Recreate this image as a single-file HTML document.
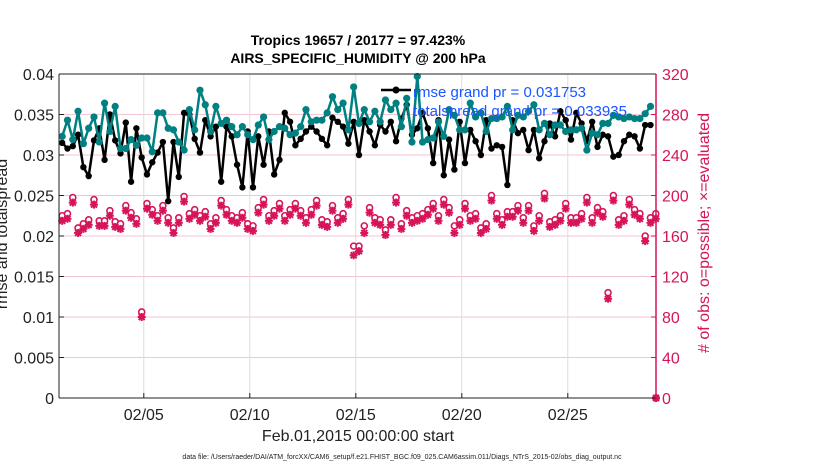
<!DOCTYPE html>
<html><head><meta charset="utf-8"><style>
html,body{margin:0;padding:0;background:#fff;}
svg{display:block;font-family:"Liberation Sans",Arial,sans-serif;}
</style></head><body>
<svg id="chart" width="830" height="470" viewBox="0 0 830 470" xmlns="http://www.w3.org/2000/svg">
<text x="358" y="45" font-size="14" font-weight="bold" text-anchor="middle">Tropics 19657 / 20177 = 97.423%</text>
<text x="358" y="63" font-size="14" font-weight="bold" text-anchor="middle">AIRS_SPECIFIC_HUMIDITY @ 200 hPa</text>
<g id="grid"></g>
<g id="marks"></g>
<g id="axes"></g>
<text transform="translate(7,234) rotate(-90)" font-size="16" text-anchor="middle" fill="#222">rmse and totalspread</text>
<text transform="translate(709,233) rotate(-90)" font-size="15.5" fill="#d6145a" text-anchor="middle" textLength="240" lengthAdjust="spacingAndGlyphs"># of obs: o=possible; ×=evaluated</text>
<text x="358" y="441" font-size="16" text-anchor="middle" fill="#222">Feb.01,2015 00:00:00 start</text>
<text x="402" y="459" font-size="7" text-anchor="middle" fill="#222">data file: /Users/raeder/DAI/ATM_forcXX/CAM6_setup/f.e21.FHIST_BGC.f09_025.CAM6assim.011/Diags_NTrS_2015-02/obs_diag_output.nc</text>
<g>
<line x1="381" y1="90" x2="411" y2="90" stroke="#000" stroke-width="2.5"/>
<circle cx="396" cy="90" r="3.5" fill="#000"/>
<text x="413" y="97" font-size="15" fill="#1a56ff">rmse grand pr = 0.031753</text>
<text x="413" y="116" font-size="15" fill="#1a56ff">totalspread grand pr = 0.033935</text>
</g>
</svg>
<script>
const xTickLabels = ["02/05","02/10","02/15","02/20","02/25"];
const xTickDays = [4,9,14,19,24];
const yLeftTicks = [0,0.005,0.01,0.015,0.02,0.025,0.03,0.035,0.04];
const yLeftLabels = ["0","0.005","0.01","0.015","0.02","0.025","0.03","0.035","0.04"];
const yRightTicks = [0,40,80,120,160,200,240,280,320];
const rmse = [0.0315,0.0308,0.0311,0.0325,0.0285,0.0274,0.0318,0.0333,0.0294,0.0350,0.0318,0.0302,0.0340,0.0267,0.0333,0.0297,0.0276,0.0291,0.0303,0.0316,0.0243,0.0316,0.0273,0.0352,0.0350,0.0320,0.0303,0.0343,0.0323,0.0335,0.0267,0.0335,0.0323,0.0288,0.0260,0.0329,0.0260,0.0323,0.0288,0.0329,0.0276,0.0294,0.0352,0.0341,0.0312,0.0320,0.0329,0.0335,0.0329,0.0320,0.0312,0.0346,0.0341,0.0335,0.0314,0.0341,0.0300,0.0343,0.0329,0.0312,0.0337,0.0329,0.0341,0.0317,0.0345,0.0362,0.0325,0.0333,0.0352,0.0333,0.0290,0.0343,0.0275,0.0319,0.0282,0.0341,0.0290,0.0331,0.0317,0.0300,0.0343,0.0308,0.0312,0.0310,0.0263,0.0343,0.0327,0.0331,0.0306,0.0331,0.0296,0.0317,0.0339,0.0323,0.0354,0.0343,0.0319,0.0352,0.0339,0.0317,0.0341,0.0310,0.0325,0.0323,0.0298,0.0300,0.0317,0.0325,0.0323,0.0308,0.0337,0.0337];
const spread = [0.0323,0.0343,0.0319,0.0354,0.0314,0.0333,0.0347,0.0316,0.0364,0.0329,0.0360,0.0308,0.0308,0.0319,0.0312,0.0321,0.0321,0.0304,0.0352,0.0352,0.0333,0.0331,0.0316,0.0306,0.0356,0.0331,0.0380,0.0362,0.0329,0.0360,0.0339,0.0343,0.0335,0.0325,0.0335,0.0325,0.0319,0.0337,0.0347,0.0319,0.0329,0.0335,0.0333,0.0325,0.0327,0.0335,0.0356,0.0341,0.0343,0.0343,0.0352,0.0372,0.0356,0.0364,0.0331,0.0384,0.0339,0.0356,0.0341,0.0354,0.0341,0.0368,0.0356,0.0364,0.0335,0.0370,0.0316,0.0397,0.0316,0.0319,0.0321,0.0341,0.0323,0.0356,0.0349,0.0331,0.0331,0.0364,0.0347,0.0352,0.0329,0.0345,0.0345,0.0347,0.0360,0.0331,0.0349,0.0347,0.0354,0.0362,0.0331,0.0339,0.0325,0.0337,0.0337,0.0329,0.0331,0.0331,0.0333,0.0306,0.0327,0.0325,0.0339,0.0339,0.0349,0.0347,0.0345,0.0347,0.0345,0.0345,0.0351,0.0360];
const possible = [180,182,198,168,172,176,196,175,175,185,174,172,190,183,177,85,192,186,180,190,178,168,178,199,182,186,180,184,172,178,195,186,180,178,183,172,170,188,196,180,185,192,180,186,192,185,178,186,195,176,174,190,178,182,196,150,150,170,188,178,176,166,176,198,172,185,178,180,182,186,192,180,196,188,170,176,192,180,182,168,172,200,182,176,184,184,190,178,190,170,180,202,174,176,180,192,178,178,182,198,178,188,184,104,200,176,180,196,186,182,160,178,182,0];
const evaluated = [175,177,193,163,167,171,191,170,170,180,169,167,185,178,172,80,187,181,175,185,173,163,173,194,177,181,175,179,167,173,190,181,175,173,178,167,165,183,191,175,180,187,175,181,187,180,173,181,190,171,169,185,173,177,191,141,145,163,183,173,171,161,171,193,167,180,173,175,177,181,187,175,191,183,163,171,187,175,177,163,167,195,177,171,179,179,185,173,185,165,175,197,169,171,175,187,173,173,177,193,173,183,179,98,195,171,175,191,181,177,155,173,177,0];

const L=59,R=656,T=74,B=398;
const xs=d=>L+d*21.2;
const yl=v=>B-(v/0.04)*(B-T);
const yr=v=>B-(v/320)*(B-T);
const dayOf=i=>0.15+i*0.25;
const NS="http://www.w3.org/2000/svg";
function mk(tag,attrs,parent){const e=document.createElementNS(NS,tag);for(const k in attrs)e.setAttribute(k,attrs[k]);parent.appendChild(e);return e;}
const grid=document.getElementById('grid'),marks=document.getElementById('marks'),axes=document.getElementById('axes');
mk('rect',{x:L,y:T,width:R-L,height:B-T,fill:'#fff'},grid);
yRightTicks.forEach((t,i)=>{const g=mk('line',{x1:L,x2:R,y1:yr(t),y2:yr(t),stroke:'#f3c6d6','stroke-width':1},grid);

});
xTickDays.forEach((d,i)=>{const g=mk('line',{x1:xs(d),x2:xs(d),y1:T,y2:B,stroke:'#ddd','stroke-width':1},grid);


mk('line',{x1:xs(d),x2:xs(d),y1:B,y2:B-5,stroke:'#222'},axes);
const t=mk('text',{x:xs(d),y:B+22,'font-size':16,'text-anchor':'middle',fill:'#222'},axes);t.textContent=xTickLabels[i];

});
yLeftTicks.forEach((v,i)=>{mk('line',{x1:L,x2:L+5,y1:yl(v),y2:yl(v),stroke:'#222'},axes);
const t=mk('text',{x:L-5,y:yl(v)+6,'font-size':16,'text-anchor':'end',fill:'#222'},axes);t.textContent=yLeftLabels[i];

});
yRightTicks.forEach(v=>{mk('line',{x1:R,x2:R-5,y1:yr(v),y2:yr(v),stroke:'#d6145a'},axes);
const t=mk('text',{x:R+6,y:yr(v)+6,'font-size':16,fill:'#d6145a'},axes);t.textContent=String(v);

});
mk('line',{x1:L,x2:R,y1:T,y2:T,stroke:'#222'},axes);
mk('line',{x1:L,x2:R,y1:B,y2:B,stroke:'#222'},axes);
mk('line',{x1:L,x2:L,y1:T,y2:B,stroke:'#222'},axes);
mk('line',{x1:R,x2:R,y1:T,y2:B,stroke:'#d6145a','stroke-width':1.5},axes);

possible.forEach((v,i)=>{const x=i===possible.length-1?R:xs(dayOf(i));const c=mk('circle',{cx:x,cy:yr(v),r:3,fill:'#fff',stroke:'#d6145a','stroke-width':1.6},marks);

});
evaluated.forEach((v,i)=>{const x=i===evaluated.length-1?R:xs(dayOf(i));const y=yr(v);
const g=mk('g',{stroke:'#d6145a','stroke-width':2},marks);


mk('line',{x1:x-4,x2:x+4,y1:y,y2:y},g);mk('line',{x1:x,x2:x,y1:y-4,y2:y+4},g);
mk('line',{x1:x-3,x2:x+3,y1:y-3,y2:y+3},g);mk('line',{x1:x-3,x2:x+3,y1:y+3,y2:y-3},g);});
function series(arr,color,name,r){
 const pts=arr.map((v,i)=>xs(dayOf(i)).toFixed(1)+','+yl(v).toFixed(1)).join(' ');
 const pl=mk('polyline',{points:pts,fill:'none',stroke:color,'stroke-width':2.5,'stroke-linejoin':'round'},marks);
 
 
 arr.forEach((v,i)=>{const c=mk('circle',{cx:xs(dayOf(i)),cy:yl(v),r:r,fill:color},marks);
 
 });
}
series(rmse,'#000','rmse',3.2);
series(spread,'#008080','totalspread',3.6);
</script>
</body></html>
